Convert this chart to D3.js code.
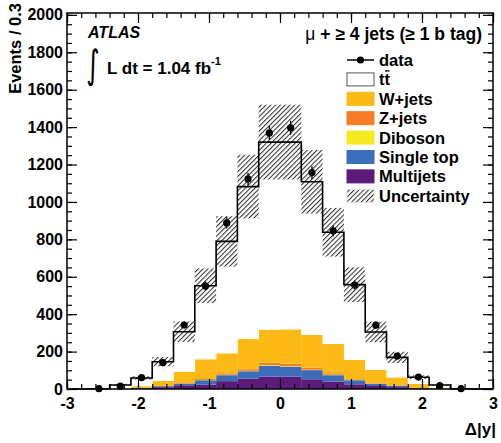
<!DOCTYPE html>
<html>
<head>
<meta charset="utf-8">
<script src="https://cdn.jsdelivr.net/npm/d3@7"></script>
<style>
  html, body { margin: 0; padding: 0; background: #fff; }
  svg { display: block; font-family: "Liberation Sans", Arial, Helvetica, sans-serif; }
</style>
</head>
<body>
<svg id="chart" width="501" height="443"></svg>
<script>
// Δ|y| distribution, bin width 0.3 from -3 to 3
const binEdges = d3.range(21).map(i => +(-3 + i * 0.3).toFixed(2));

// Stacked predictions (events per bin), bottom to top
const multijets = [0, 0, 1, 4, 10, 20, 23, 42, 55, 66, 66, 52, 40, 25, 16, 10, 4, 1, 0, 0];
const singleTop = [0, 0, 0, 2, 5, 9, 24, 32, 40, 59, 54, 49, 34, 22, 12, 8, 2, 0, 0, 0];
const diboson   = [0, 0, 0, 0, 0, 1, 1, 2, 2, 3, 3, 2, 2, 1, 1, 0, 0, 0, 0, 0];
const zJets     = [0, 0, 0, 0, 1, 2, 5, 8, 9, 12, 13, 12, 8, 4, 2, 1, 0, 0, 0, 0];
const wJets     = [0, 0, 2, 9, 27, 61, 106, 107, 161, 177, 183, 174, 157, 103, 71, 43, 21, 4, 0, 0];
const ttbar     = [0, 1, 18, 44, 103, 213, 393, 598, 815, 1003, 1001, 819, 597, 403, 203, 107, 36, 16, 1, 0];

// Total systematic uncertainty on the prediction (±)
const uncertainty = [0, 0, 3, 9, 25, 55, 93, 135, 170, 200, 200, 170, 130, 93, 55, 30, 10, 3, 0, 0];

// Observed events (null = empty bin)
const dataCounts = [null, 2, 15, 61, 141, 342, 551, 888, 1123, 1369, 1396, 1157, 845, 556, 341, 176, 64, 18, 2, null];

// Axis ticks
const xMajorTicks = [-3, -2, -1, 0, 1, 2, 3];
const xMinorTicks = d3.range(31).map(i => +(-3 + i * 0.2).toFixed(2));
const yMajorTicks = d3.range(0, 2001, 200);
const yMinorTicks = d3.range(0, 2001, 50);

const components = [
  { name: "Multijets",  values: multijets, color: "#5c1b78" },
  { name: "Single top", values: singleTop, color: "#3b6dbb" },
  { name: "Diboson",    values: diboson,   color: "#f6ea22" },
  { name: "Z+jets",     values: zJets,     color: "#f47d26" },
  { name: "W+jets",     values: wJets,     color: "#fdb915" },
  { name: "tt",         values: ttbar,     color: "#ffffff" }
];
const colorOf = name => components.find(c => c.name === name).color;

const svg = d3.select("#chart");
const plotLeft = 67, plotRight = 493, plotTop = 13, plotBottom = 389;
const x = d3.scaleLinear().domain([-3, 3]).range([plotLeft, plotRight]);
const y = d3.scaleLinear().domain([0, 2010]).range([plotBottom, plotTop]);

// hatch pattern for the uncertainty band
const defs = svg.append("defs");
const pat = defs.append("pattern")
  .attr("id", "hatch").attr("patternUnits", "userSpaceOnUse")
  .attr("width", 3.4).attr("height", 3.4)
  .attr("patternTransform", "rotate(45)");
pat.append("line").attr("x1", 0.5).attr("y1", 0).attr("x2", 0.5).attr("y2", 3.4)
  .attr("stroke", "#2e2e2e").attr("stroke-width", 1.05);

const nBins = binEdges.length - 1;
const bins = d3.range(nBins).map(i => ({ i, x0: binEdges[i], x1: binEdges[i + 1] }));

// stacked fills
const stackRows = bins.map(b => {
  const row = { i: b.i };
  components.forEach(c => { row[c.name] = c.values[b.i]; });
  return row;
});
const stacked = d3.stack().keys(components.map(c => c.name))(stackRows);

const gStack = svg.append("g");
stacked.forEach((layer, k) => {
  gStack.selectAll(null).data(layer).enter().append("rect")
    .attr("x", d => x(binEdges[d.data.i]))
    .attr("width", d => x(binEdges[d.data.i + 1]) - x(binEdges[d.data.i]) + 0.3)
    .attr("y", d => y(d[1]))
    .attr("height", d => Math.max(0, y(d[0]) - y(d[1])))
    .attr("fill", components[k].color);
});

const totals = stacked[stacked.length - 1].map(d => d[1]);

// uncertainty band
svg.append("g").selectAll("rect").data(bins.filter(b => uncertainty[b.i] > 0)).enter().append("rect")
  .attr("x", b => x(b.x0))
  .attr("width", b => x(b.x1) - x(b.x0))
  .attr("y", b => y(totals[b.i] + uncertainty[b.i]))
  .attr("height", b => y(Math.max(0, totals[b.i] - uncertainty[b.i])) - y(totals[b.i] + uncertainty[b.i]))
  .attr("fill", "url(#hatch)");

// total prediction outline
const stepPts = [];
bins.forEach(b => { stepPts.push([b.x0, totals[b.i]]); stepPts.push([b.x1, totals[b.i]]); });
svg.append("path")
  .attr("d", d3.line().x(p => x(p[0])).y(p => y(p[1]))(stepPts))
  .attr("fill", "none").attr("stroke", "#000").attr("stroke-width", 1.6);

// axes
function styleAxis(g) {
  g.select(".domain").remove();
  g.selectAll(".tick line").attr("stroke", "#000").attr("stroke-width", 1.2);
  g.selectAll("text").attr("font-size", 16).attr("font-weight", "bold").attr("fill", "#000")
    .attr("font-family", "'Liberation Sans', Arial, sans-serif");
}
const fmtX = d => (d < 0 ? "-" + Math.abs(d) : String(d));

svg.append("g").attr("transform", `translate(0,${plotBottom})`)
  .call(d3.axisBottom(x).tickValues(xMinorTicks).tickSizeInner(-5).tickSizeOuter(0).tickFormat(""))
  .call(styleAxis);
svg.append("g").attr("transform", `translate(0,${plotBottom})`)
  .call(d3.axisBottom(x).tickValues(xMajorTicks).tickSizeInner(-10).tickSizeOuter(0).tickPadding(9).tickFormat(fmtX))
  .call(styleAxis);
svg.append("g").attr("transform", `translate(0,${plotTop})`)
  .call(d3.axisTop(x).tickValues(xMinorTicks).tickSizeInner(-5).tickSizeOuter(0).tickFormat(""))
  .call(styleAxis);
svg.append("g").attr("transform", `translate(0,${plotTop})`)
  .call(d3.axisTop(x).tickValues(xMajorTicks).tickSizeInner(-10).tickSizeOuter(0).tickFormat(""))
  .call(styleAxis);

svg.append("g").attr("transform", `translate(${plotLeft},0)`)
  .call(d3.axisLeft(y).tickValues(yMinorTicks).tickSizeInner(-5).tickSizeOuter(0).tickFormat(""))
  .call(styleAxis);
svg.append("g").attr("transform", `translate(${plotLeft},0)`)
  .call(d3.axisLeft(y).tickValues(yMajorTicks).tickSizeInner(-10).tickSizeOuter(0).tickPadding(4).tickFormat(d3.format("d")))
  .call(styleAxis);
svg.append("g").attr("transform", `translate(${plotRight},0)`)
  .call(d3.axisRight(y).tickValues(yMinorTicks).tickSizeInner(-5).tickSizeOuter(0).tickFormat(""))
  .call(styleAxis);
svg.append("g").attr("transform", `translate(${plotRight},0)`)
  .call(d3.axisRight(y).tickValues(yMajorTicks).tickSizeInner(-10).tickSizeOuter(0).tickFormat(""))
  .call(styleAxis);

// frame
svg.append("rect").attr("x", plotLeft).attr("y", plotTop)
  .attr("width", plotRight - plotLeft).attr("height", plotBottom - plotTop)
  .attr("fill", "none").attr("stroke", "#000").attr("stroke-width", 1.5);

// data points with statistical error bars
const pts = bins.filter(b => dataCounts[b.i] !== null).map(b => ({
  xc: (b.x0 + b.x1) / 2, n: dataCounts[b.i], err: Math.sqrt(dataCounts[b.i])
}));
const gData = svg.append("g");
gData.selectAll("line").data(pts).enter().append("line")
  .attr("x1", d => x(d.xc)).attr("x2", d => x(d.xc))
  .attr("y1", d => y(d.n + d.err)).attr("y2", d => y(Math.max(0, d.n - d.err)))
  .attr("stroke", "#000").attr("stroke-width", 1.3);
gData.selectAll("circle").data(pts).enter().append("circle")
  .attr("cx", d => x(d.xc)).attr("cy", d => y(d.n)).attr("r", 3.6).attr("fill", "#000");

// axis titles
svg.append("text").attr("transform", "translate(21,3) rotate(-90)")
  .attr("text-anchor", "end").attr("font-size", 16.5).attr("font-weight", "bold")
  .text("Events / 0.3");
svg.append("text").attr("x", 496).attr("y", 435).attr("text-anchor", "end")
  .attr("font-size", 17).attr("font-weight", "bold").text("Δ|y|");

// experiment label and luminosity
svg.append("text").attr("x", 88).attr("y", 38).attr("font-size", 16)
  .attr("font-weight", "bold").attr("font-style", "italic").text("ATLAS");
svg.append("text").attr("x", 0).attr("y", 0).attr("font-size", 26)
  .attr("font-family", "'DejaVu Sans', sans-serif")
  .attr("transform", "translate(86,78) scale(1,1.5)")
  .text("∫");
const lumi = svg.append("text").attr("x", 107).attr("y", 74).attr("font-size", 17).attr("font-weight", "bold");
lumi.append("tspan").text("L dt = 1.04 fb");
lumi.append("tspan").attr("font-size", 11).attr("dy", -9).text("-1");

// channel label
const ch = svg.append("text").attr("x", 482).attr("y", 40).attr("text-anchor", "end")
  .attr("font-size", 17.5).attr("font-weight", "bold");
ch.append("tspan").attr("font-weight", "normal").text("μ");
ch.append("tspan").text(" + ≥ 4 jets (≥ 1 b tag)");

// legend
const legendRows = [
  { label: "data", kind: "data" },
  { label: "tt", kind: "box", fill: "#fff", stroke: "#555" },
  { label: "W+jets", kind: "box", fill: colorOf("W+jets") },
  { label: "Z+jets", kind: "box", fill: colorOf("Z+jets") },
  { label: "Diboson", kind: "box", fill: colorOf("Diboson") },
  { label: "Single top", kind: "box", fill: colorOf("Single top") },
  { label: "Multijets", kind: "box", fill: colorOf("Multijets") },
  { label: "Uncertainty", kind: "hatch" }
];
const lx0 = 347, lx1 = 374, ly0 = 60, ldy = 19.4;
const gLeg = svg.append("g");
legendRows.forEach((r, k) => {
  const cy = ly0 + k * ldy;
  if (r.kind === "data") {
    gLeg.append("line").attr("x1", lx0).attr("x2", lx1).attr("y1", cy).attr("y2", cy)
      .attr("stroke", "#000").attr("stroke-width", 1.5);
    gLeg.append("circle").attr("cx", (lx0 + lx1) / 2).attr("cy", cy).attr("r", 3.6).attr("fill", "#000");
  } else if (r.kind === "box") {
    gLeg.append("rect").attr("x", lx0).attr("y", cy - 6.5).attr("width", lx1 - lx0).attr("height", 13)
      .attr("fill", r.fill).attr("stroke", r.stroke || r.fill).attr("stroke-width", 1);
  } else {
    gLeg.append("rect").attr("x", lx0).attr("y", cy - 6.5).attr("width", lx1 - lx0).attr("height", 13)
      .attr("fill", "url(#hatch)").attr("stroke", "#ddd").attr("stroke-width", 0.8);
  }
  const t = gLeg.append("text").attr("x", 379).attr("y", cy + 6)
    .attr("font-size", 16.5).attr("font-weight", "bold").text(r.label);
  if (r.label === "tt") {
    const node = t.node();
    const sx = node.getStartPositionOfChar(1).x;
    const w = node.getSubStringLength(1, 1);
    gLeg.append("line").attr("x1", sx + 0.5).attr("x2", sx + w - 0.5)
      .attr("y1", cy - 8.5).attr("y2", cy - 8.5).attr("stroke", "#000").attr("stroke-width", 1.3);
  }
});
</script>
</body>
</html>
